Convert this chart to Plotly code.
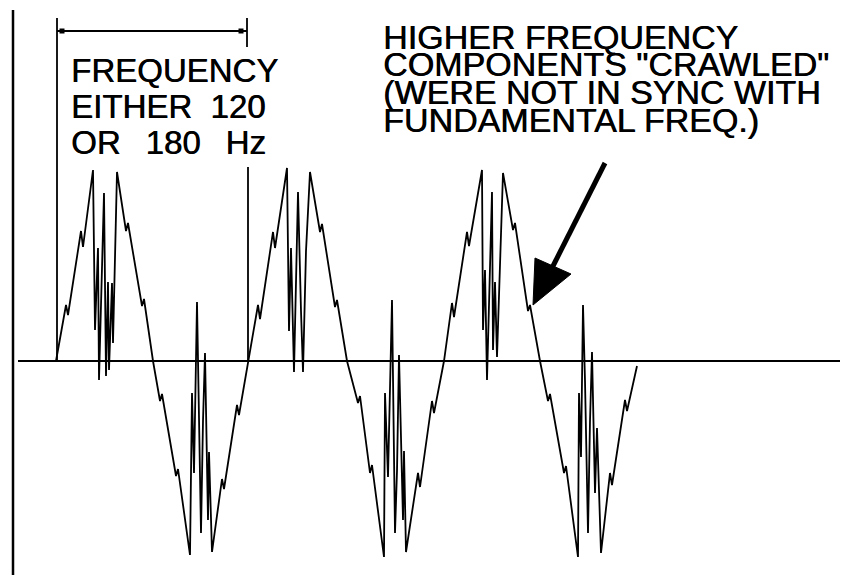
import plotly.graph_objects as go

# Waveform: x position, height above the baseline (same units as the page)
wave_x = [56, 66, 68, 81, 83, 93, 95, 98, 99, 104, 106, 108, 109, 112, 113, 117, 126, 128, 142, 144, 153,
          160, 162, 176, 178, 190, 192, 194, 197, 201, 203, 205, 208, 209, 212, 222, 224, 237, 239, 248,
          258, 260, 273, 275, 287, 289, 291, 294, 298, 301, 303, 306, 310, 320, 322, 335, 337, 347,
          358, 360, 370, 372, 384, 385, 388, 392, 395, 397, 399, 403, 404, 406, 418, 420, 432, 434, 444,
          452, 454, 467, 469, 482, 483, 485, 487, 492, 493, 495, 497, 503, 513, 515, 528, 530, 540,
          548, 550, 564, 566, 578, 579, 581, 583, 585, 588, 590, 592, 595, 597, 601, 610, 612, 625, 627, 637]
wave_y = [0, 56, 46, 130, 114, 191, 31, 113, -19, 168, -15, 79, -9, 78, 18, 189, 130, 138, 55, 62, 0,
          -40, -33, -115, -108, -194, -32, -112, 59, -172, -60, 8, -159, -91, -191, -118, -128, -44, -54, 0,
          56, 42, 129, 113, 193, 30, 113, -11, 169, 50, -11, 110, 189, 129, 137, 54, 61, 0,
          -42, -35, -112, -104, -196, -32, -116, 61, -172, -110, 6, -159, -90, -191, -112, -126, -40, -52, 0,
          58, 44, 129, 115, 191, 31, 91, -19, 169, 11, 79, 4, 188, 131, 138, 50, 56, 0,
          -40, -33, -112, -105, -196, -32, -96, 56, -20, -172, -60, 9, -132, -67, -192, -112, -124, -39, -50, -5]

left_text = ["FREQUENCY", "EITHER\u00a0\u00a0120", "OR\u00a0\u00a0\u2009180\u00a0\u00a0\u2009Hz"]
right_text = ["HIGHER FREQUENCY", "COMPONENTS \"CRAWLED\"", "(WERE NOT IN SYNC WITH", "FUNDAMENTAL FREQ.)"]

BASE = 361  # baseline pixel row
def h(py):
    return BASE - py

fig = go.Figure()
fig.add_trace(go.Scatter(x=wave_x, y=wave_y, mode="lines",
                         line=dict(color="black", width=1.8), hoverinfo="skip", showlegend=False))

shapes = []
def line(x0, py0, x1, py1, w=2):
    shapes.append(dict(type="line", xref="x", yref="y", x0=x0, y0=h(py0), x1=x1, y1=h(py1),
                       line=dict(color="black", width=w)))

line(13, 10, 13, 575, 2.5)        # left border
line(18, 361, 840, 361, 2)        # baseline
line(57, 18, 57, 361, 1.8)        # left extension
line(247, 18, 247, 47, 1.8)       # right tick
line(248, 167, 248, 361, 1.8)     # right extension
line(57, 31, 247, 31, 1.8)        # dimension line
for cx in (62, 241):
    shapes.append(dict(type="rect", xref="x", yref="y", x0=cx - 2.5, x1=cx + 2.5,
                       y0=h(33.5), y1=h(28.5), fillcolor="black", line=dict(width=0)))
# arrow
line(605, 163, 552, 268, 5)
shapes.append(dict(type="path", xref="x", yref="y",
                   path=f"M 533 {h(305)} L 535 {h(258)} L 571 {h(274)} Z",
                   fillcolor="black", line=dict(color="black", width=1)))

annotations = []
shadow = "0.6px 0px 0px black"
font_l = dict(family="Liberation Sans, Arial, sans-serif", size=33, color="black", shadow=shadow)
font_r = dict(family="Liberation Sans, Arial, sans-serif", size=34, color="black", shadow=shadow)
for txt, py in zip(left_text, [70, 106, 142.5]):
    annotations.append(dict(x=69, y=h(py), xref="x", yref="y", text=txt, showarrow=False,
                            xanchor="left", yanchor="middle", font=font_l))
for txt, py in zip(right_text, [37, 64, 92, 120]):
    annotations.append(dict(x=381, y=h(py), xref="x", yref="y", text=txt, showarrow=False,
                            xanchor="left", yanchor="middle", font=font_r))

fig.update_layout(width=843, height=575, autosize=False,
                  margin=dict(l=0, r=0, t=0, b=0),
                  paper_bgcolor="white", plot_bgcolor="white",
                  xaxis=dict(range=[0, 843], visible=False, fixedrange=True),
                  yaxis=dict(range=[h(575), h(0)], visible=False, fixedrange=True),
                  shapes=shapes, annotations=annotations, showlegend=False)

fig.write_html("out.html", config={"displayModeBar": False},
               post_script="document.body.style.margin='0';document.body.style.overflow='hidden';")
